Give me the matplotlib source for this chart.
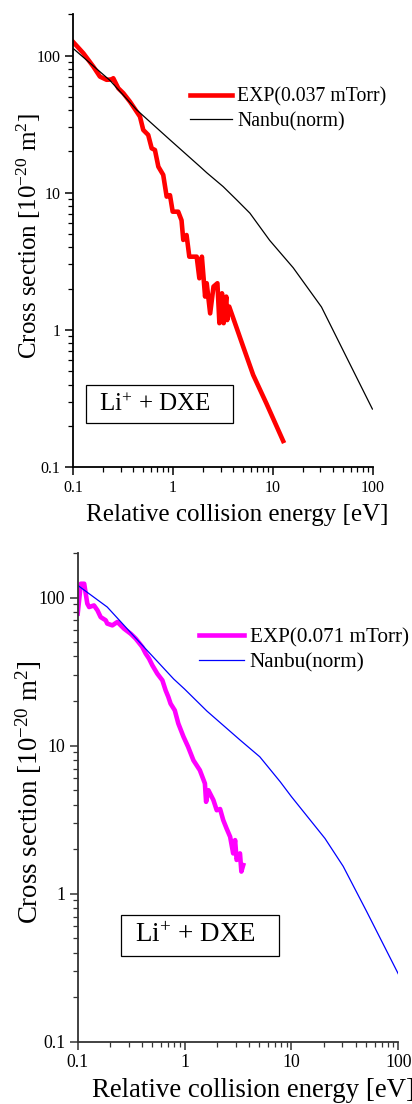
import matplotlib
matplotlib.use("Agg")
import matplotlib.pyplot as plt
from matplotlib.patches import Rectangle

plt.rcParams['font.family'] = ['Liberation Serif', 'DejaVu Serif']
plt.rcParams['mathtext.fontset'] = 'custom'
plt.rcParams['mathtext.rm'] = 'Liberation Serif'
plt.rcParams['mathtext.it'] = 'Liberation Serif:italic'

# --- 0.037 mTorr run ---
e_exp1 = [0.1, 0.127, 0.16, 0.186, 0.217, 0.244, 0.253, 0.284, 0.319, 0.372,
          0.434, 0.468, 0.505, 0.566, 0.613, 0.661, 0.715, 0.80, 0.866, 0.935,
          0.995, 1.13, 1.22, 1.27, 1.37, 1.46, 1.73, 1.84, 1.95, 2.1, 2.18,
          2.36, 2.55, 2.79, 2.92, 3.1, 3.22, 3.42, 3.5, 3.66, 5.07, 6.36, 8.65,
          12.7]
s_exp1 = [126, 104, 83, 70.3, 66.6, 67, 68.4, 57.8, 53.2, 46.1,
          39, 35.9, 28.7, 26.4, 21.1, 20.5, 15.5, 13.5, 9.37, 9.6,
          7.28, 7.28, 6.3, 4.53, 4.92, 3.42, 3.42, 2.38, 3.42, 1.75, 2.19,
          1.32, 2.07, 2.19, 1.12, 1.85, 1.12, 1.75, 1.18, 1.48, 0.75, 0.47, 0.29,
          0.155]

e_nanbu1 = [0.1, 0.234, 0.434, 0.935, 1.87, 2.18, 3.18, 4.4, 5.9, 9.3, 16.0,
            30.7, 54.6, 99.3]
s_nanbu1 = [113, 66, 40.2, 24.3, 15.5, 14.0, 11.1, 8.8, 7.1, 4.5, 2.84,
            1.47, 0.634, 0.265]

# --- 0.071 mTorr run ---
e_exp2 = [0.1, 0.107, 0.115, 0.123, 0.128, 0.142, 0.153, 0.164, 0.183, 0.189,
          0.211, 0.235, 0.271, 0.313, 0.349, 0.402, 0.433, 0.465, 0.499, 0.556,
          0.62, 0.665, 0.705, 0.74, 0.81, 0.874, 0.976, 1.08, 1.21, 1.39, 1.55,
          1.59, 1.67, 1.86, 2.0, 2.15, 2.3, 2.47, 2.67, 2.85, 2.97, 3.07, 3.3,
          3.4, 3.54]
s_exp2 = [77.9, 124, 124, 91, 86.3, 88.5, 82, 73.8, 70.2, 66.7,
          64.9, 68.4, 61.7, 57, 52.8, 46.4, 41.8, 38.7, 34.9, 30.6,
          27.6, 23.6, 21.3, 19.2, 17.3, 14.1, 11.5, 9.8, 7.96, 6.82, 5.55,
          4.17, 5.0, 4.29, 3.66, 3.73, 3.14, 2.76, 2.42, 1.87, 2.3, 1.69, 1.87,
          1.41, 1.56]

e_nanbu2 = [0.1, 0.189, 0.389, 0.79, 1.0, 1.62, 3.31, 5.06, 7.85, 10, 20.6,
            30.5, 50.5, 100]
s_nanbu2 = [121, 86.3, 48.9, 28.2, 24.1, 17.1, 10.9, 8.4, 5.7, 4.52, 2.36,
            1.53, 0.759, 0.287]

ticks = [0.1, 1, 10, 100]
tick_labels = ['0.1', '1', '10', '100']

W, H = 412, 1104
fig = plt.figure(figsize=(W / 100, H / 100), dpi=100)


def panel(rect, e_exp, s_exp, exp_color, exp_label, e_nb, s_nb, nb_color,
          spine_color, fs_tick, fs_lab, fs_leg, fs_box, leg_anchor,
          box_rect, box_text_xy, xlab_xy, ylab_xy):
    ax = fig.add_axes(rect)
    ax.plot(e_exp, s_exp, color=exp_color, lw=3.3, label=exp_label)
    ax.plot(e_nb, s_nb, color=nb_color, lw=0.9, label='Nanbu(norm)')
    ax.set_xscale('log')
    ax.set_yscale('log')
    ax.set_xlim(0.1, 100)
    ax.set_ylim(0.1, 200)
    ax.set_xticks(ticks)
    ax.set_xticklabels(tick_labels)
    ax.set_yticks(ticks)
    ax.set_yticklabels(tick_labels)
    for s in ['top', 'right']:
        ax.spines[s].set_visible(False)
    for s in ['left', 'bottom']:
        ax.spines[s].set_linewidth(1.3)
        ax.spines[s].set_color(spine_color)
    ax.tick_params(which='major', direction='out', length=6, width=1.1,
                   labelsize=fs_tick, pad=3, color=spine_color)
    ax.tick_params(which='minor', direction='out', length=3.5, width=0.9,
                   color=spine_color)
    ax.set_xlabel('Relative collision energy [eV]', fontsize=fs_lab, va='top')
    ax.xaxis.set_label_coords(*xlab_xy)
    ax.set_ylabel('Cross section [10$^{-20}$ m$^{2}$]', fontsize=fs_lab,
                  va='center')
    ax.yaxis.set_label_coords(*ylab_xy)
    ax.legend(loc='upper left', bbox_to_anchor=leg_anchor, frameon=False,
              fontsize=fs_leg, handlelength=2.15, handletextpad=0.25,
              labelspacing=0.25, borderaxespad=0, borderpad=0)
    x0, y0, x1, y1 = box_rect
    ax.add_patch(Rectangle((x0, y0), x1 - x0, y1 - y0, transform=ax.transAxes,
                           fill=False, ec='black', lw=0.9, clip_on=False))
    ax.text(box_text_xy[0], box_text_xy[1], 'Li$^{+}$ + DXE',
            transform=ax.transAxes, fontsize=fs_box, va='center', ha='left')
    return ax


panel([73 / W, 1 - 467.1 / H, 299.7 / W, 452.8 / H],
      e_exp1, s_exp1, 'red', 'EXP(0.037 mTorr)',
      e_nanbu1, s_nanbu1, 'black', 'black',
      11.5, 18, 14.2, 18, (0.39, 0.838),
      (0.043, 0.097, 0.533, 0.181), (0.087, 0.139),
      (0.548, -0.082), (-0.148, 0.509))

panel([77.7 / W, 1 - 1041.7 / H, 320.6 / W, 488.7 / H],
      e_exp2, s_exp2, '#ff00ff', 'EXP(0.071 mTorr)',
      e_nanbu2, s_nanbu2, '#0000ff', '#333333',
      12.8, 19.4, 15.2, 19.5, (0.378, 0.847),
      (0.135, 0.176, 0.628, 0.260), (0.179, 0.218),
      (0.547, -0.074), (-0.153, 0.511))

fig.savefig('out.png', dpi=100)
